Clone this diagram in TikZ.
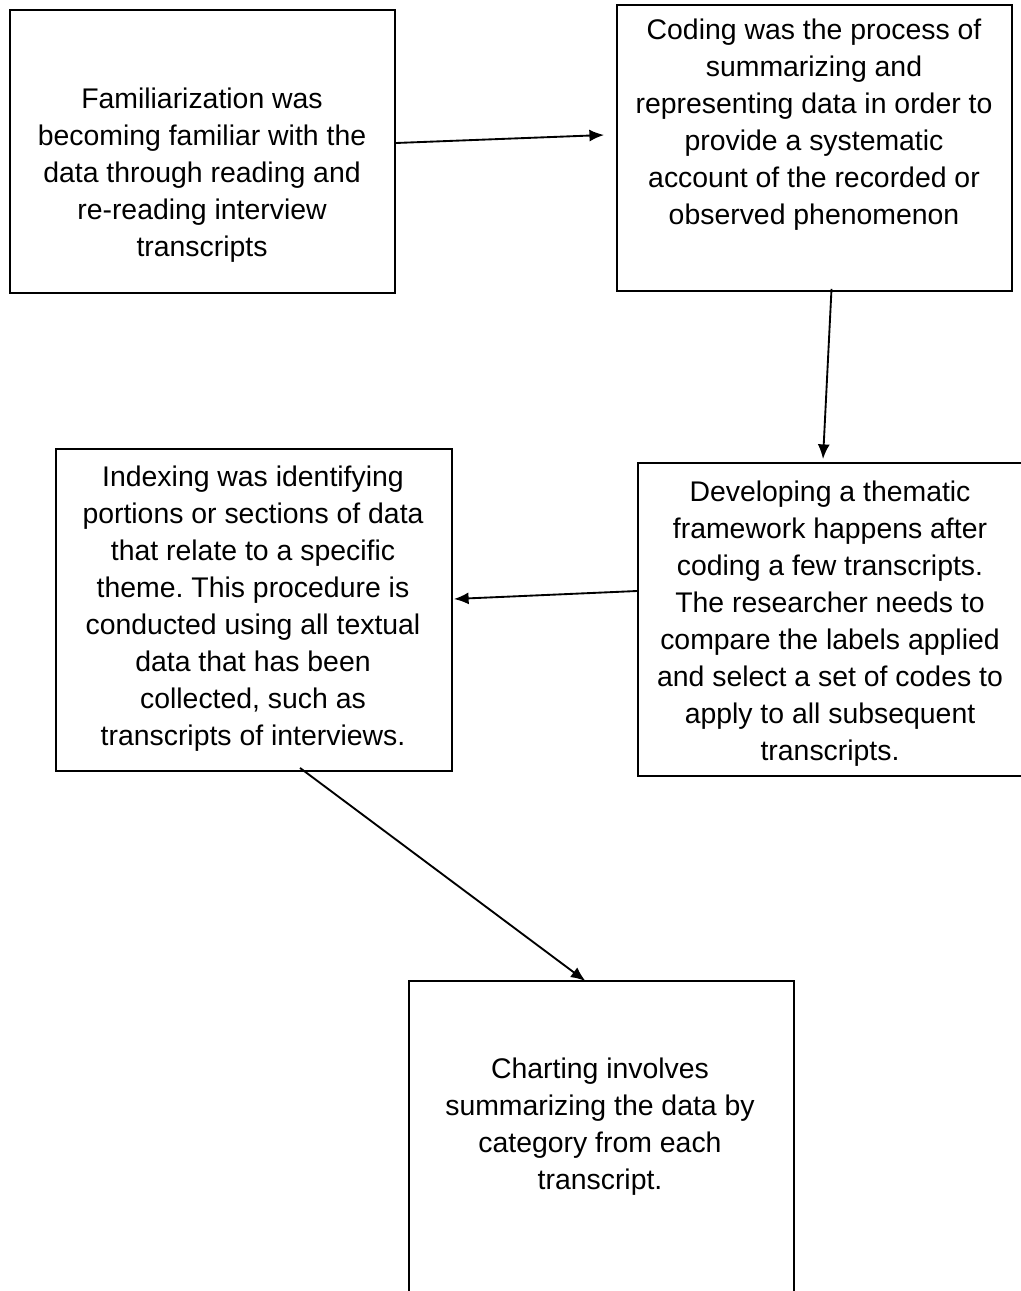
\documentclass[tikz,border=0pt]{standalone}
\usepackage{fontspec}
\setmainfont{Liberation Sans}
\frenchspacing
\usetikzlibrary{calc,arrows.meta}
\tikzset{>={Latex[length=11pt,width=9pt]}}
\tikzset{
    box/.style={draw, line width=1.4pt, inner sep=0pt},
    txt/.style={align=center, inner sep=0pt, font=\fontsize{21.3}{27.75}\selectfont},
    link/.style={->, line width=1.4pt}
}

\begin{document}
\begin{tikzpicture}[x=0.75pt,y=-0.75pt]
            \useasboundingbox (0,0) rectangle (1020,1291);
            \node[box, minimum width=385*0.75pt, minimum height=283*0.75pt] (fam) at (202.5,151.5) {};
            \node[box, minimum width=395*0.75pt, minimum height=286*0.75pt] (cod) at (814.5,148) {};
            \node[box, minimum width=392*0.75pt, minimum height=313*0.75pt] (dev) at (834,619.5) {};
            \node[box, minimum width=396*0.75pt, minimum height=322*0.75pt] (idx) at (254,610) {};
            \node[box, minimum width=385*0.75pt, minimum height=329*0.75pt] (cht) at (601.5,1145.5) {};
            \node[txt] (famtxt) at (202,175) {Familiarization was\\becoming familiar with the\\data through reading and\\re-reading interview\\transcripts};
            \node[txt] (codtxt) at (814,125) {Coding was the process of\\summarizing and\\representing data in order to\\provide a systematic\\account of the recorded or\\observed phenomenon};
            \node[txt] (devtxt) at (830,624) {Developing a thematic\\framework happens after\\coding a few transcripts.\\The researcher needs to\\compare the labels applied\\and select a set of codes to\\apply to all subsequent\\transcripts.};
            \node[txt] (idxtxt) at (253,609) {Indexing was identifying\\portions or sections of data\\that relate to a specific\\theme. This procedure is\\conducted using all textual\\data that has been\\collected, such as\\transcripts of interviews.};
            \node[txt] (chttxt) at (600,1127) {Charting involves\\summarizing the data by\\category from each\\transcript.};
            \draw[link] ($(fam.east)+(0,-8.5)$) -- ($(cod.west)+(-12,-13)$);
            \draw[link] ($(cod.south)+(17,-3)$) -- ($(dev.north)+(-11,-3)$);
            \draw[link] ($(dev.west)+(0,-28.5)$) -- ($(idx.east)+(1,-11)$);
            \draw[link] ($(idx.south)+(46,-4)$) -- ($(cht.north)+(-16,1)$);
        \end{tikzpicture}
\end{document}
